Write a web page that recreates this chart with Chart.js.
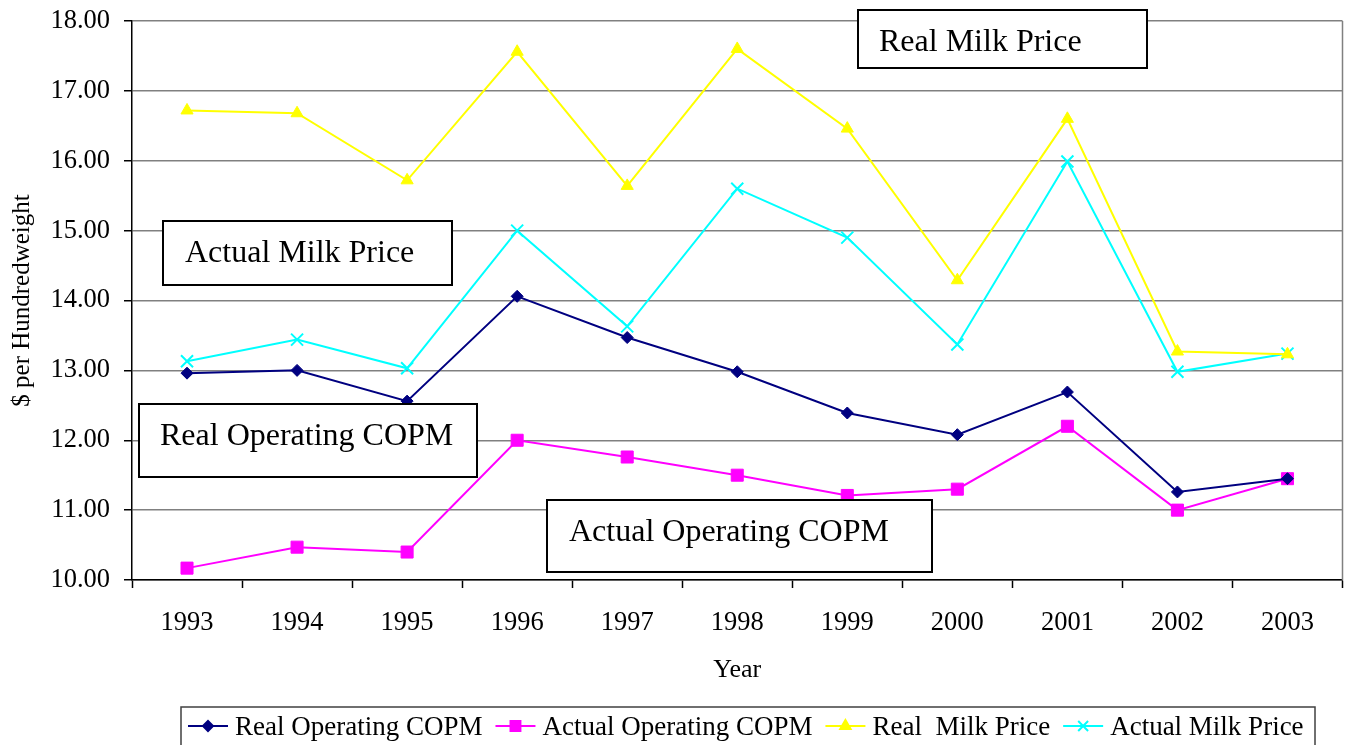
<!DOCTYPE html>
<html>
<head>
<meta charset="utf-8">
<title>Operating COPM and milk price</title>
<script src="https://cdn.jsdelivr.net/npm/chart.js@4/dist/chart.umd.min.js"></script>
<style>
  html, body { margin: 0; padding: 0; background: #fff; overflow: hidden; }
</style>
</head>
<body>
<canvas id="chart" width="1353" height="745"></canvas>
<script>
// --- data ---
const years = ["1993", "1994", "1995", "1996", "1997", "1998", "1999", "2000", "2001", "2002", "2003"];
const realOperatingCopm   = [12.96, 13.00, 12.56, 14.06, 13.47, 12.98, 12.39, 12.08, 12.69, 11.26, 11.45];
const actualOperatingCopm = [10.17, 10.47, 10.40, 12.00, 11.76, 11.50, 11.21, 11.30, 12.20, 11.00, 11.45];
const realMilkPrice       = [16.72, 16.68, 15.72, 17.56, 15.64, 17.60, 16.46, 14.29, 16.60, 13.27, 13.23];
const actualMilkPrice     = [13.13, 13.44, 13.03, 15.00, 13.63, 15.60, 14.90, 13.37, 15.99, 12.98, 13.24];
const seriesNames = ["Real Operating COPM", "Actual Operating COPM", "Real  Milk Price", "Actual Milk Price"];
const boxLabels = ["Real Milk Price", "Actual Milk Price", "Real Operating COPM", "Actual Operating COPM"];

const FONT = "'Liberation Serif', 'Times New Roman', serif";

// --- text boxes + legend + right border ---
const extras = {
  id: "extras",
  afterDraw(chart) {
    const { ctx, chartArea } = chart;
    ctx.save();

    // right border of plot
    ctx.strokeStyle = "#808080";
    ctx.lineWidth = 1.5;
    ctx.beginPath();
    ctx.moveTo(chartArea.right, chartArea.top);
    ctx.lineTo(chartArea.right, chartArea.bottom);
    ctx.stroke();

    // annotation boxes: [x, y, w, h, textX, baseline]
    const spots = [
      [858, 10, 289, 58, 879, 51],
      [163, 221, 289, 64, 185, 262],
      [139, 404, 338, 73, 160, 445],
      [547, 500, 385, 72, 569, 541],
    ];
    ctx.font = `32px ${FONT}`;
    ctx.textBaseline = "alphabetic";
    ctx.textAlign = "left";
    boxLabels.forEach((txt, i) => {
      const [x, y, w, h, tx, ty] = spots[i];
      ctx.fillStyle = "#fff";
      ctx.fillRect(x, y, w, h);
      ctx.strokeStyle = "#000";
      ctx.lineWidth = 2;
      ctx.strokeRect(x, y, w, h);
      ctx.fillStyle = "#000";
      ctx.fillText(txt, tx, ty);
    });

    // legend at the bottom
    ctx.strokeStyle = "#404040";
    ctx.lineWidth = 1.5;
    ctx.strokeRect(181, 707, 1134, 60);
    ctx.font = `27px ${FONT}`;
    let x = 188;
    const ly = 726;
    chart.data.datasets.forEach(ds => {
      ctx.strokeStyle = ds.borderColor;
      ctx.lineWidth = 2;
      ctx.beginPath();
      ctx.moveTo(x, ly);
      ctx.lineTo(x + 40, ly);
      ctx.stroke();
      ctx.fillStyle = ds.backgroundColor;
      Chart.helpers.drawPoint(ctx, {
        pointStyle: ds.pointStyle,
        radius: ds.legendRadius,
        borderWidth: 2,
        rotation: 0,
      }, x + 20, ly);
      ctx.fillStyle = "#000";
      ctx.fillText(ds.label, x + 47, 735);
      x += 47 + ctx.measureText(ds.label).width + 13;
    });

    ctx.restore();
  },
};

function series(label, data, color, pointStyle, radius, legendRadius) {
  return {
    label,
    data,
    borderColor: color,
    backgroundColor: color,
    pointBorderColor: color,
    pointBackgroundColor: color,
    borderWidth: 2,
    pointStyle,
    pointRadius: radius,
    pointBorderWidth: pointStyle === "crossRot" ? 2 : 1,
    legendRadius,
    tension: 0,
  };
}

new Chart(document.getElementById("chart"), {
  type: "line",
  data: {
    labels: years,
    datasets: [
      series(seriesNames[0], realOperatingCopm, "#000080", "rectRot", 6, 5),
      series(seriesNames[1], actualOperatingCopm, "#FF00FF", "rect", 8.5, 7),
      series(seriesNames[2], realMilkPrice, "#FFFF00", "triangle", 7, 6),
      series(seriesNames[3], actualMilkPrice, "#00FFFF", "crossRot", 8.5, 7),
    ],
  },
  options: {
    responsive: false,
    animation: false,
    layout: { padding: { top: 21, right: 4, left: 0, bottom: 0 } },
    plugins: {
      legend: { display: false },
      tooltip: { enabled: false },
    },
    scales: {
      x: {
        offset: true,
        grid: {
          offset: true,
          drawOnChartArea: false,
          tickColor: "#000",
          tickLength: 8,
          tickWidth: 1.5,
        },
        border: { color: "#000", width: 1.5 },
        ticks: { color: "#000", font: { family: FONT, size: 26.5 }, padding: 19, maxRotation: 0 },
        title: {
          display: true,
          text: "Year",
          color: "#000",
          font: { family: FONT, size: 26 },
          padding: { bottom: 59 },
        },
        afterFit(scale) {
          scale.height = 165;
          scale.paddingLeft = 0;
          scale.paddingRight = 0;
        },
      },
      y: {
        min: 10,
        max: 18,
        ticks: {
          stepSize: 1,
          color: "#000",
          font: { family: FONT, size: 26.5 },
          padding: 14,
          callback: v => v.toFixed(2),
        },
        grid: { color: "#808080", lineWidth: 1.5, tickColor: "#000", tickLength: 8 },
        border: { color: "#000", width: 1.5 },
        title: {
          display: true,
          text: "$ per Hundredweight",
          color: "#000",
          font: { family: FONT, size: 25 },
          padding: { top: 7 },
        },
        afterFit(scale) {
          scale.width = 132;
          scale.paddingTop = 0;
          scale.paddingBottom = 0;
        },
      },
    },
  },
  plugins: [extras],
});
</script>
</body>
</html>
